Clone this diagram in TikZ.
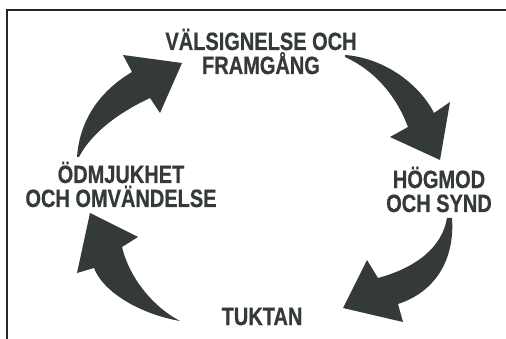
\documentclass[tikz,border=0pt]{standalone}
\usepackage{fontspec}
\newfontfamily\cykelfont{Liberation Sans Bold}[FakeStretch=0.8,FakeBold=0.6]
\usetikzlibrary{positioning}
\definecolor{cykelgra}{RGB}{52,57,57}
\tikzstyle{etikett} = [text=cykelgra, font=\cykelfont\fontsize{25}{24}\selectfont, align=center, inner sep=0pt, anchor=base]
\tikzstyle{pil} = [fill=cykelgra]
\tikzstyle{ram} = [draw=black!85, line width=1.2pt]

\begin{document}
\begin{tikzpicture}[x=1pt,y=-1pt]
\useasboundingbox (0,0) rectangle (506,339);
\draw[ram] (7,339) -- (7,10) -- (506,10);

\node[etikett] (valsignelse) at (261,74) {VÄLSIGNELSE OCH\\FRAMGÅNG};
\node[etikett] (hogmod) at (439,212) {HÖGMOD\\OCH SYND};
\node[etikett] (tuktan) at (262,325) {TUKTAN};
\node[etikett] (odmjukhet) at (121,207) {ÖDMJUKHET\\OCH OMVÄNDELSE};

\fill[pil] (77,157) .. controls (80,115) and (105,88) .. (132,72)
  -- (123,55) -- (182,63) -- (160,113) -- (150,98)
  .. controls (120,112) and (92,132) .. (79,157) -- cycle;
\fill[pil] (345,55) .. controls (385,58) and (420,85) .. (434,113)
  -- (450,102) -- (440,160) -- (390,137) -- (408,127)
  .. controls (398,100) and (378,72) .. (345,57) -- cycle;
\fill[pil] (452,218) .. controls (455,260) and (435,292) .. (398,304)
  -- (403,322) -- (343,308) -- (367,260) -- (378,278)
  .. controls (415,268) and (442,248) .. (447,218) -- cycle;
\fill[pil] (180,321) .. controls (140,314) and (103,292) .. (94,268)
  -- (77,273) -- (90,213) -- (138,237) -- (122,247)
  .. controls (130,280) and (155,308) .. (180,321) -- cycle;
\end{tikzpicture}
\end{document}
